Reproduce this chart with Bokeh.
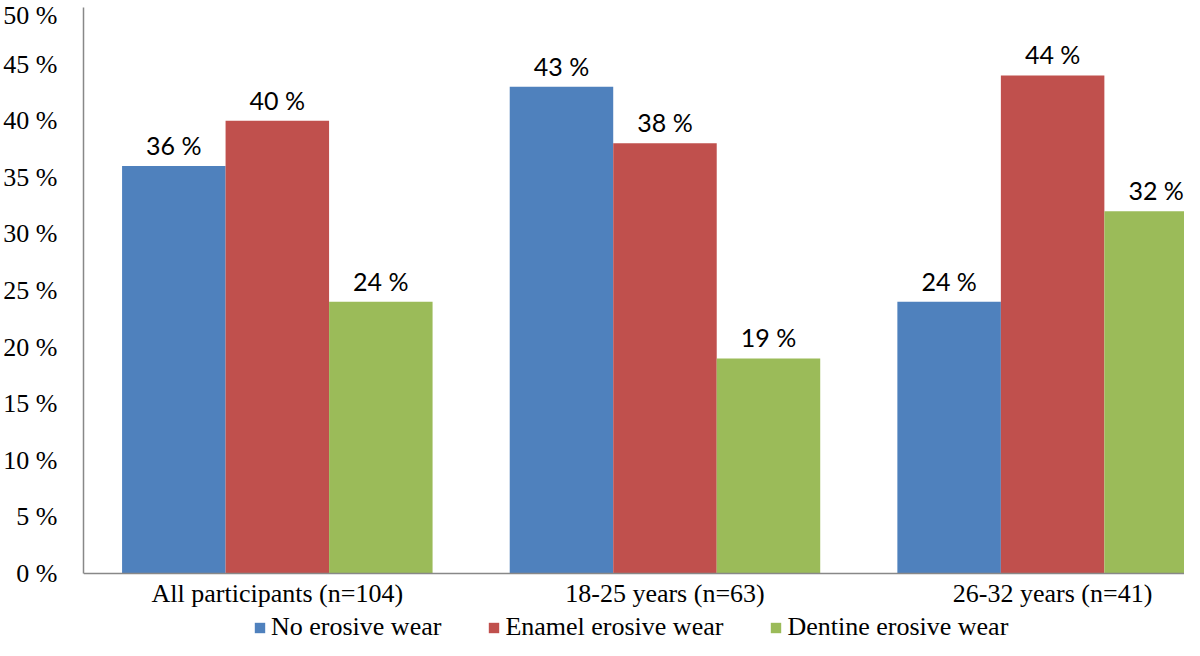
from bokeh.plotting import figure
from bokeh.models import Range1d, FixedTicker, Legend, LegendItem, ColumnDataSource
from bokeh.core.properties import value
from bokeh.embed import file_html
from bokeh.resources import INLINE

# ---- data ----
categories = ["All participants (n=104)", "18-25 years (n=63)", "26-32 years (n=41)"]
series_names = ["No erosive wear", "Enamel erosive wear", "Dentine erosive wear"]
no_erosive = [36, 43, 24]
enamel_erosive = [40, 38, 44]
dentine_erosive = [24, 19, 32]
y_ticks = [0, 5, 10, 15, 20, 25, 30, 35, 40, 45, 50]
y_tick_labels = ["0 %", "5 %", "10 %", "15 %", "20 %", "25 %", "30 %", "35 %", "40 %", "45 %", "50 %"]

# ---- styles ----
colors = ["#4F81BD", "#C0504D", "#9BBB59"]
bar_w = 0.267
offsets = [-bar_w, 0.0, bar_w]
serif = "Liberation Serif"
sans = "Lato"
axis_col = "#888888"

W, H = 1184, 640
left = 82
px_per_cat = 388.0
px_per_pct = 11.32
zero_y = 573

p = figure(width=W, height=H, output_backend="svg", toolbar_location=None,
           x_range=Range1d(0, (W - left) / px_per_cat),
           y_range=Range1d(-(H - zero_y) / px_per_pct, zero_y / px_per_pct),
           min_border_left=left, min_border_right=0, min_border_top=0, min_border_bottom=0)
p.outline_line_color = None
p.xgrid.grid_line_color = None
p.ygrid.grid_line_color = None
p.background_fill_color = "white"
p.border_fill_color = "white"

centers = [i + 0.5 for i in range(len(categories))]
all_series = [no_erosive, enamel_erosive, dentine_erosive]
items = []
for vals, name, col, off in zip(all_series, series_names, colors, offsets):
    xs = [c + off for c in centers]
    src = ColumnDataSource(dict(x=xs, top=vals, lab=[f"{v} %" for v in vals]))
    r = p.vbar(x="x", top="top", bottom=0, width=bar_w, source=src,
               fill_color=col, line_color=None)
    p.text(x="x", y="top", text="lab", source=src, text_align="center",
           text_baseline="alphabetic", y_offset=-21,
           text_font=value(sans), text_font_size="25px", text_color="black")
    items.append(LegendItem(label=name, renderers=[r]))

# x axis (drawn at y = 0 inside the frame)
xa = p.xaxis[0]
xa.fixed_location = 0
xa.ticker = FixedTicker(ticks=centers)
xa.major_label_overrides = {c: lab for c, lab in zip(centers, categories)}
xa.major_tick_line_color = None
xa.minor_tick_line_color = None
xa.major_tick_out = 0
xa.major_tick_in = 0
xa.axis_line_color = axis_col
xa.axis_line_width = 1.5
xa.major_label_standoff = 5
xa.major_label_text_font = serif
xa.major_label_text_font_size = "26px"
xa.major_label_text_color = "black"

# y axis
ya = p.yaxis[0]
ya.bounds = (0, 50)
ya.ticker = FixedTicker(ticks=y_ticks)
ya.major_label_overrides = {t: lab for t, lab in zip(y_ticks, y_tick_labels)}
ya.major_tick_line_color = None
ya.minor_tick_line_color = None
ya.major_tick_out = 0
ya.major_tick_in = 0
ya.axis_line_color = axis_col
ya.axis_line_width = 1.5
ya.major_label_standoff = 26
ya.major_label_text_font = serif
ya.major_label_text_font_size = "26px"
ya.major_label_text_color = "black"

legend = Legend(items=items, orientation="horizontal", location=(170, -2),
                label_text_font=serif, label_text_font_size="26px", label_text_color="black",
                glyph_width=13, glyph_height=13, label_standoff=5, spacing=46,
                padding=0, margin=0, border_line_color=None, background_fill_alpha=0)
p.add_layout(legend, "center")

open("out.html", "w").write(file_html(p, INLINE))
